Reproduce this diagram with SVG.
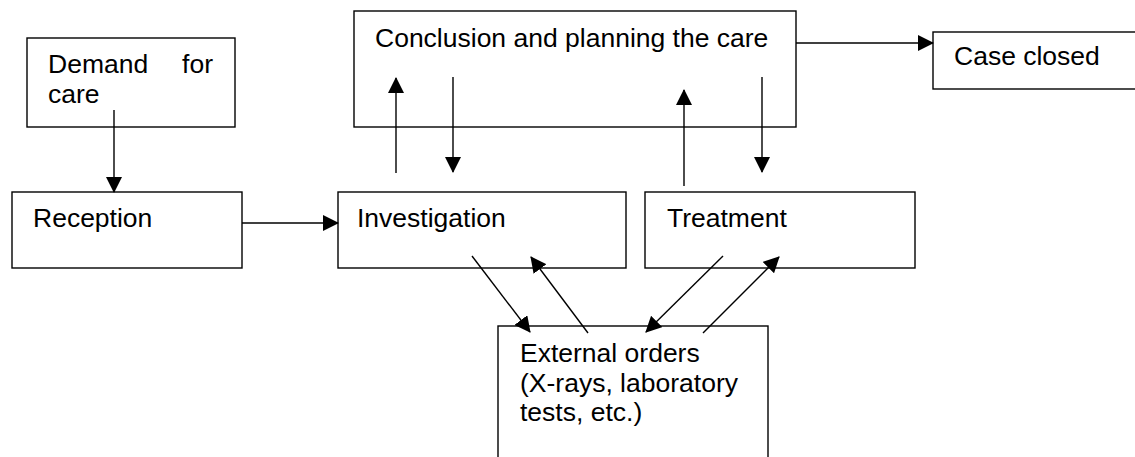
<svg xmlns="http://www.w3.org/2000/svg" width="1135" height="457" viewBox="0 0 1135 457">
<style>
.box{fill:#fff;stroke:#000;stroke-width:1.4}
.lbl{font-family:"Liberation Sans",Arial,sans-serif;font-size:26.5px;fill:#000}
.con{stroke:#000;stroke-width:1.4;fill:none;marker-end:url(#ah)}
</style>
<defs>
<marker id="ah" markerUnits="userSpaceOnUse" markerWidth="16" markerHeight="16" refX="15" refY="8" orient="auto">
<path d="M0,0 L16,8 L0,16 z" fill="#000"/>
</marker>
</defs>
<g id="node-demand">
<rect class="box" x="27" y="38" width="208" height="89"/>
<text class="lbl"><tspan x="48" y="73">Demand</tspan><tspan x="213" y="73" text-anchor="end">for</tspan><tspan x="48" y="103">care</tspan></text>
</g>
<g id="node-conclusion">
<rect class="box" x="354" y="11" width="442" height="116"/>
<text class="lbl" x="375" y="47">Conclusion and planning the care</text>
</g>
<g id="node-closed">
<rect class="box" x="933" y="32" width="220" height="57"/>
<text class="lbl" x="954" y="65">Case closed</text>
</g>
<g id="node-reception">
<rect class="box" x="12" y="192" width="230" height="76"/>
<text class="lbl" x="33" y="227">Reception</text>
</g>
<g id="node-investigation">
<rect class="box" x="338" y="192" width="288" height="76"/>
<text class="lbl" x="357" y="227">Investigation</text>
</g>
<g id="node-treatment">
<rect class="box" x="645" y="192" width="270" height="76"/>
<text class="lbl" x="667" y="227">Treatment</text>
</g>
<g id="node-external">
<rect class="box" x="498" y="326" width="270" height="150"/>
<text class="lbl"><tspan x="520" y="362">External orders</tspan><tspan x="520" y="392">(X-rays, laboratory</tspan><tspan x="520" y="421">tests, etc.)</tspan></text>
</g>
<g id="connectors">
<line class="con" x1="114" y1="110" x2="114" y2="192"/>
<line class="con" x1="242" y1="223" x2="338" y2="223"/>
<line class="con" x1="396" y1="173" x2="396" y2="78"/>
<line class="con" x1="453" y1="77" x2="453" y2="172"/>
<line class="con" x1="684" y1="186" x2="684" y2="90"/>
<line class="con" x1="762" y1="77" x2="762" y2="172"/>
<line class="con" x1="796" y1="43" x2="933" y2="43"/>
<line class="con" x1="472" y1="256" x2="530" y2="332"/>
<line class="con" x1="588" y1="333" x2="531" y2="257"/>
<line class="con" x1="723" y1="256" x2="646" y2="332"/>
<line class="con" x1="703" y1="333" x2="779" y2="257"/>
</g>
</svg>
